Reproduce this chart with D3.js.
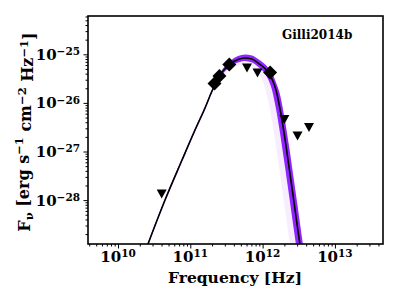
<!DOCTYPE html>
<html>
<head>
<meta charset="utf-8">
<script src="https://cdn.jsdelivr.net/npm/d3@7"></script>
<style>
  body { margin: 0; background: #fff; }
  svg text { font-family: "DejaVu Serif", serif; font-weight: bold; fill: #000; }
</style>
</head>
<body>
<div id="chart"></div>
<script>
// model SED (black line) and posterior envelope
const freqGrid = [2.36e10, 4.47e10, 7.68e10, 1.161e11, 1.597e11, 1.996e11, 2.576e11, 3.541e11,
  4.568e11, 5.709e11, 7.136e11, 8.64e11, 1.046e12, 1.188e12, 1.349e12, 1.532e12, 1.741e12,
  2.041e12, 2.318e12, 2.634e12, 2.991e12, 3.398e12, 3.859e12];
const modelFlux = [8.55e-30, 1.005e-28, 6.68e-28, 2.77e-27, 7.85e-27, 1.76e-26, 3.75e-26, 6.31e-26,
  7.82e-26, 8.39e-26, 8.0e-26, 6.62e-26, 5.35e-26, 4.32e-26, 3.10e-26, 1.84e-26, 7.49e-27,
  1.81e-27, 4.80e-28, 1.27e-28, 3.22e-29, 8.55e-30, 2.16e-30];
const bandUpper = [9.18e-30, 1.08e-28, 7.18e-28, 2.97e-27, 8.43e-27, 1.89e-26, 4.12e-26, 7.28e-26,
  9.23e-26, 9.91e-26, 9.45e-26, 8.0e-26, 6.47e-26, 5.35e-26, 4.12e-26, 2.63e-26, 1.47e-26,
  4.24e-27, 1.30e-27, 3.44e-28, 9.14e-29, 2.31e-29, 6.14e-30];
const bandLower = [7.96e-30, 9.35e-29, 6.22e-28, 2.58e-27, 7.31e-27, 1.64e-26, 3.33e-26, 5.48e-26,
  6.78e-26, 7.28e-26, 6.78e-26, 5.53e-26, 4.22e-26, 3.10e-26, 1.84e-26, 7.49e-27, 2.40e-27,
  4.80e-28, 1.27e-28, 3.22e-29, 8.55e-30, 2.16e-30, 6.0e-31];
const bandFaint = [7.42e-30, 8.71e-29, 5.80e-28, 2.40e-27, 6.81e-27, 1.52e-26, 2.96e-26, 4.75e-26,
  5.88e-26, 6.17e-26, 5.48e-26, 4.22e-26, 2.39e-26, 1.175e-26, 4.24e-27, 1.30e-27, 3.44e-28,
  6.41e-29, 1.66e-29, 4.41e-30, 1.11e-30, 2.96e-31, 8.2e-32];

// photometry: detections (diamonds) and upper limits (down triangles)
const detFreq = [2.16e11, 2.53e11, 3.46e11, 1.27e12];
const detFlux = [2.51e-26, 3.58e-26, 6.17e-26, 4.22e-26];
const limFreq = [4.02e10, 6.08e11, 8.50e11, 2.00e12, 3.04e12, 4.38e12];
const limFlux = [1.34e-28, 5.22e-26, 4.12e-26, 4.55e-27, 2.08e-27, 3.12e-27];

const xTickExp = [10, 11, 12, 13];
const yTickExp = [-25, -26, -27, -28];
const sourceLabel = "Gilli2014b";

const W = 399, H = 299;
const plot = {left: 88, right: 383, top: 16, bottom: 244};

const svg = d3.select("#chart").append("svg")
    .attr("width", W)
    .attr("height", H);

const x = d3.scaleLog()
    .domain([Math.pow(10, 9.585), Math.pow(10, 13.665)])
    .range([plot.left, plot.right]);
const y = d3.scaleLog()
    .domain([Math.pow(10, -28.903), Math.pow(10, -24.212)])
    .range([plot.bottom, plot.top]);

svg.append("clipPath").attr("id", "clip")
  .append("rect")
    .attr("x", plot.left).attr("y", plot.top)
    .attr("width", plot.right - plot.left)
    .attr("height", plot.bottom - plot.top);

const g = svg.append("g").attr("clip-path", "url(#clip)");
const idx = d3.range(freqGrid.length);

// faint posterior haze
g.append("path")
    .datum(idx)
    .attr("d", d3.area()
        .curve(d3.curveMonotoneX)
        .x(i => x(freqGrid[i]))
        .y0(i => y(bandFaint[i]))
        .y1(i => y(bandUpper[i])))
    .style("fill", "#8c1aff")
    .style("opacity", 0.08);

// dense part of the posterior
g.append("path")
    .datum(idx)
    .attr("d", d3.area()
        .curve(d3.curveMonotoneX)
        .x(i => x(freqGrid[i]))
        .y0(i => y(bandLower[i]))
        .y1(i => y(bandUpper[i])))
    .style("fill", "#7f00ff")
    .style("opacity", 0.85);

// best fit
g.append("path")
    .datum(idx)
    .attr("d", d3.line()
        .curve(d3.curveMonotoneX)
        .x(i => x(freqGrid[i]))
        .y(i => y(modelFlux[i])))
    .style("fill", "none")
    .style("stroke", "#000")
    .style("stroke-width", 1.6);

// markers
g.selectAll(".det")
  .data(detFreq)
  .join("path")
    .attr("class", "det")
    .attr("transform", (d, i) => `translate(${x(d)},${y(detFlux[i])})`)
    .attr("d", "M0,-7L7,0L0,7L-7,0Z")
    .style("fill", "#000");

g.selectAll(".lim")
  .data(limFreq)
  .join("path")
    .attr("class", "lim")
    .attr("transform", (d, i) => `translate(${x(d)},${y(limFlux[i])})`)
    .attr("d", "M-5,-4.5L5,-4.5L0,4.5Z")
    .style("fill", "#000");

// axes
function minorTicks(lo, hi) {
  const out = [];
  for (let e = lo; e <= hi; e++) for (let m = 2; m <= 9; m++) out.push(m * Math.pow(10, e));
  return out;
}
const xMajor = xTickExp.map(e => Math.pow(10, e));
const yMajor = yTickExp.map(e => Math.pow(10, e));

const xMinor = minorTicks(9, 13).filter(v => v >= x.domain()[0] && v <= x.domain()[1]);
const yMinor = minorTicks(-29, -25).filter(v => v >= y.domain()[0] && v <= y.domain()[1]);

function styleAxis(sel) {
  sel.select(".domain").remove();
  sel.selectAll("line").style("stroke", "#000").style("stroke-width", 1);
}

svg.append("g")
    .attr("transform", `translate(0,${plot.bottom})`)
    .call(d3.axisBottom(x).tickValues(xMinor).tickSize(2.5).tickFormat(""))
    .call(styleAxis);
svg.append("g")
    .attr("transform", `translate(0,${plot.bottom})`)
    .call(d3.axisBottom(x).tickValues(xMajor).tickSize(4.5).tickFormat(""))
    .call(styleAxis);
svg.append("g")
    .attr("transform", `translate(${plot.left},0)`)
    .call(d3.axisLeft(y).tickValues(yMinor).tickSize(2.5).tickFormat(""))
    .call(styleAxis);
svg.append("g")
    .attr("transform", `translate(${plot.left},0)`)
    .call(d3.axisLeft(y).tickValues(yMajor).tickSize(4.5).tickFormat(""))
    .call(styleAxis);

function powerLabel(sel, e) {
  sel.append("tspan").text("10");
  sel.append("tspan")
      .attr("dy", "-0.45em")
      .style("font-size", "10.5px")
      .text(String(e).replace("-", "\u2212"));
}

xTickExp.forEach(e => {
  svg.append("text")
      .attr("x", x(Math.pow(10, e)))
      .attr("y", 262)
      .attr("text-anchor", "middle")
      .style("font-size", "15px")
      .call(powerLabel, e);
});
yTickExp.forEach(e => {
  svg.append("text")
      .attr("x", 80)
      .attr("y", y(Math.pow(10, e)) + 5.5)
      .attr("text-anchor", "end")
      .style("font-size", "15px")
      .call(powerLabel, e);
});

// frame
svg.append("rect")
    .attr("x", plot.left).attr("y", plot.top)
    .attr("width", plot.right - plot.left)
    .attr("height", plot.bottom - plot.top)
    .style("fill", "none")
    .style("stroke", "#000")
    .style("stroke-width", 1.6);

// labels
svg.append("text")
    .attr("x", 235)
    .attr("y", 283)
    .attr("text-anchor", "middle")
    .style("font-size", "15.5px")
    .text("Frequency [Hz]");

const yl = svg.append("text")
    .attr("transform", "translate(30,132) rotate(-90)")
    .attr("text-anchor", "middle")
    .style("font-size", "16px");
yl.append("tspan").text("F");
yl.append("tspan").attr("dy", "0.3em").style("font-size", "11.5px").text("\u03bd");
yl.append("tspan").attr("dy", "-0.3em").text(" [erg s");
yl.append("tspan").attr("dy", "-0.45em").style("font-size", "11.5px").text("\u22121");
yl.append("tspan").attr("dy", "0.45em").text(" cm");
yl.append("tspan").attr("dy", "-0.45em").style("font-size", "11.5px").text("\u22122");
yl.append("tspan").attr("dy", "0.45em").text(" Hz");
yl.append("tspan").attr("dy", "-0.45em").style("font-size", "11.5px").text("\u22121");
yl.append("tspan").attr("dy", "0.45em").text("]");

svg.append("text")
    .attr("x", 282)
    .attr("y", 38.5)
    .style("font-size", "12px")
    .text(sourceLabel);
</script>
</body>
</html>
